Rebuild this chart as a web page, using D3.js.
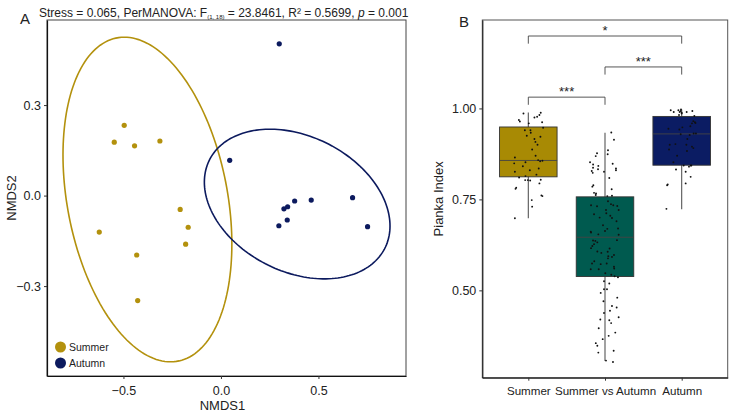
<!DOCTYPE html>
<html>
<head>
<meta charset="utf-8">
<script src="https://cdn.jsdelivr.net/npm/d3@7"></script>
<style>
  body { margin: 0; background: #fff; }
  text { font-family: "Liberation Sans", Arial, sans-serif; fill: #222; }
</style>
</head>
<body>
<div id="chart"></div>
<script>
const WIDTH = 735;
const HEIGHT = 418;

// ---- panel A data (NMDS scores) ----
const SEASONS = ["Summer", "Autumn"];
const summerX = [-0.547, -0.496, -0.443, -0.313, -0.209, -0.168, -0.624, -0.181, -0.432, -0.427];
const summerY = [0.177, 0.233, 0.165, 0.181, -0.046, -0.105, -0.121, -0.161, -0.197, -0.348];
const autumnX = [0.299, 0.045, 0.323, 0.342, 0.378, 0.463, 0.675, 0.297, 0.340, 0.752];
const autumnY = [0.503, 0.117, -0.044, -0.037, -0.018, -0.015, -0.007, -0.100, -0.081, -0.103];

// 95% ellipses: centre, spread on each axis, correlation
const ellipseCenter = [[-0.377, -0.013], [0.391, -0.028]];
const ellipseSpread = [[0.433, 0.538], [0.476, 0.248]];
const ellipseCorr = [-0.274, -0.293];

const xTicksA = [-0.5, 0.0, 0.5];
const yTicksA = [-0.3, 0.0, 0.3];

// ---- panel B data (Pianka index) ----
const GROUPS = ["Summer", "Summer vs Autumn", "Autumn"];
const boxLow = [0.698, 0.306, 0.723];
const boxQ1 = [0.812, 0.538, 0.844];
const boxMedian = [0.857, 0.646, 0.930];
const boxQ3 = [0.949, 0.757, 0.978];
const boxHigh = [0.989, 0.933, 0.997];

const summerPianka = [0.986, 0.988, 0.982, 0.977, 0.975, 0.968, 0.964, 0.962, 0.959, 0.947,
  0.940, 0.940, 0.933, 0.922, 0.916, 0.908, 0.865, 0.858, 0.855, 0.856,
  0.852, 0.849, 0.841, 0.835, 0.826, 0.818, 0.814, 0.803, 0.803, 0.802,
  0.804, 0.794, 0.782, 0.779, 0.761, 0.759, 0.748, 0.730, 0.698, 0.925,
  0.900, 0.887, 0.870, 0.830, 0.810];
const summerJitter = [-0.063, 0.162, 0.145, 0.115, 0.080, -0.123, -0.110, 0.180, 0.006, 0.193,
  -0.045, 0.028, 0.032, 0.158, 0.080, 0.093, -0.175, 0.128, 0.154, 0.184,
  -0.037, -0.184, -0.071, 0.136, -0.175, 0.106, -0.037, -0.006, -0.041, 0.024,
  0.162, 0.145, -0.158, -0.167, 0.171, 0.184, 0.045, 0.050, -0.175, -0.020,
  0.120, 0.050, 0.095, 0.020, -0.120];

const mixedPianka = [0.934, 0.914, 0.885, 0.877, 0.874, 0.869, 0.852, 0.848, 0.846, 0.842,
  0.837, 0.835, 0.833, 0.830, 0.828, 0.826, 0.823, 0.809, 0.789, 0.785,
  0.778, 0.768, 0.766, 0.762, 0.760, 0.759, 0.745, 0.737, 0.734, 0.734,
  0.732, 0.731, 0.721, 0.721, 0.712, 0.709, 0.705, 0.699, 0.679, 0.669,
  0.663, 0.661, 0.659, 0.654, 0.653, 0.638, 0.637, 0.632, 0.636, 0.627,
  0.622, 0.616, 0.607, 0.606, 0.603, 0.597, 0.594, 0.592, 0.588, 0.574,
  0.572, 0.574, 0.565, 0.558, 0.558, 0.547, 0.543, 0.539, 0.536, 0.525,
  0.519, 0.503, 0.503, 0.493, 0.480, 0.457, 0.453, 0.444, 0.438, 0.426,
  0.420, 0.418, 0.396, 0.384, 0.375, 0.366, 0.348, 0.334, 0.329, 0.307,
  0.303, 0.700, 0.690, 0.615, 0.580, 0.560, 0.470, 0.410, 0.355, 0.670];
const mixedJitter = [0.082, 0.117, 0.039, -0.104, 0.035, -0.121, -0.195, 0.100, -0.155, -0.087,
  -0.156, 0.143, -0.091, 0.143, -0.173, -0.013, -0.160, 0.056, -0.152, -0.165,
  0.087, -0.143, -0.117, -0.121, 0.091, 0.030, 0.039, 0.078, -0.182, 0.108,
  0.160, -0.104, 0.178, 0.013, 0.017, -0.143, 0.069, 0.091, -0.026, 0.030,
  0.000, -0.186, -0.182, -0.087, 0.178, 0.156, -0.156, -0.100, -0.126, -0.143,
  -0.165, -0.182, -0.100, 0.035, -0.048, 0.117, 0.043, 0.091, 0.039, -0.169,
  -0.056, 0.022, 0.117, -0.186, -0.082, 0.004, 0.082, 0.125, 0.169, -0.013,
  0.056, 0.026, -0.013, -0.056, 0.160, 0.091, 0.152, 0.065, -0.013, 0.178,
  -0.061, 0.056, -0.082, 0.134, 0.048, -0.030, -0.100, 0.113, -0.087, 0.013,
  0.104, -0.070, 0.150, 0.060, -0.140, 0.120, -0.020, 0.080, -0.120, 0.170];

const autumnPianka = [0.997, 0.995, 0.995, 0.993, 0.990, 0.988, 0.990, 0.990, 0.993, 0.979,
  0.982, 0.986, 0.965, 0.962, 0.959, 0.951, 0.944, 0.942, 0.948, 0.931,
  0.929, 0.931, 0.927, 0.916, 0.902, 0.900, 0.900, 0.895, 0.891, 0.887,
  0.883, 0.852, 0.843, 0.840, 0.843, 0.843, 0.832, 0.826, 0.812, 0.794,
  0.789, 0.791, 0.724, 0.960, 0.870];
const autumnJitter = [-0.009, -0.143, -0.043, -0.013, -0.104, 0.000, -0.026, 0.065, 0.139, 0.165,
  -0.035, 0.000, 0.152, 0.173, 0.134, 0.113, -0.173, -0.030, 0.009, 0.156,
  -0.013, 0.186, 0.104, 0.074, -0.082, -0.156, 0.061, 0.134, 0.152, -0.165,
  0.069, -0.108, 0.117, 0.095, 0.026, 0.126, -0.074, 0.052, 0.117, 0.052,
  -0.190, -0.182, -0.199, 0.180, -0.060];

const pankaPoints = [summerPianka, mixedPianka, autumnPianka];
const pankaJitter = [summerJitter, mixedJitter, autumnJitter];

// significance brackets: [from group, to group, label, height]
const bracketFrom = [1, 2, 1];
const bracketTo = [2, 3, 3];
const bracketLabel = ["***", "***", "*"];
const bracketLevel = [1.031, 1.114, 1.199];
const yTicksB = [0.50, 0.75, 1.00];

const SEASON_COLORS = ["#b3910d", "#0c1a5e"];
const BOX_COLORS = ["#a88a04", "#005a4f", "#0b1c63"];

const svg = d3.select("#chart").append("svg")
  .attr("width", WIDTH)
  .attr("height", HEIGHT);

// ================= panel A =================
const A = { left: 47, right: 406, top: 20, bottom: 376 };

const xA = d3.scaleLinear().domain([-0.892, 0.949]).range([A.left, A.right]);
const yA = d3.scaleLinear().domain([-0.598, 0.582]).range([A.bottom, A.top]);

svg.append("rect")
  .attr("x", A.left).attr("y", A.top)
  .attr("width", A.right - A.left).attr("height", A.bottom - A.top)
  .attr("fill", "none").attr("stroke", "#444").attr("stroke-width", 1);

const axA_x = svg.append("g")
  .attr("transform", "translate(0," + A.bottom + ")")
  .call(d3.axisBottom(xA).tickValues(xTicksA).tickFormat(d3.format(".1f")).tickSize(3).tickSizeOuter(0));
const axA_y = svg.append("g")
  .attr("transform", "translate(" + A.left + ",0)")
  .call(d3.axisLeft(yA).tickValues(yTicksA).tickFormat(d3.format(".1f")).tickSize(3).tickSizeOuter(0));

[axA_x, axA_y].forEach(g => {
  g.select(".domain").attr("stroke", "#111").attr("stroke-width", 1.2);
  g.selectAll(".tick line").attr("stroke", "#333");
  g.selectAll(".tick text").attr("font-size", "12.5px").attr("fill", "#222")
    .attr("font-family", "Liberation Sans, Arial, sans-serif")
    .text(d => d3.format(".1f")(d).replace("-", "\u2212"));
});
axA_x.selectAll(".tick text").attr("dy", "1.05em");

// ellipses
const ellipseLine = d3.line().x(d => xA(d[0])).y(d => yA(d[1])).curve(d3.curveLinearClosed);
SEASONS.forEach((s, i) => {
  const [cx, cy] = ellipseCenter[i];
  const [sx, sy] = ellipseSpread[i];
  const r = ellipseCorr[i];
  const pts = d3.range(0, 360, 2).map(a => {
    const t = a * Math.PI / 180;
    return [cx + sx * Math.cos(t),
            cy + sy * (r * Math.cos(t) + Math.sqrt(1 - r * r) * Math.sin(t))];
  });
  svg.append("path")
    .attr("d", ellipseLine(pts))
    .attr("fill", "none")
    .attr("stroke", SEASON_COLORS[i])
    .attr("stroke-width", 1.6);
});

// points
const seasonPoints = [d3.zip(summerX, summerY), d3.zip(autumnX, autumnY)];
SEASONS.forEach((s, i) => {
  svg.selectAll(".pt" + i)
    .data(seasonPoints[i])
    .enter()
    .append("circle")
    .attr("cx", d => xA(d[0]))
    .attr("cy", d => yA(d[1]))
    .attr("r", 2.6)
    .attr("fill", SEASON_COLORS[i]);
});

// legend
SEASONS.forEach((s, i) => {
  const ly = 347 + i * 16;
  svg.append("circle").attr("cx", 60.5).attr("cy", ly).attr("r", 5.5).attr("fill", SEASON_COLORS[i]);
  svg.append("text").attr("x", 69).attr("y", ly + 4)
    .attr("font-size", "10.5px").text(s);
});

svg.append("text").attr("x", (A.left + A.right) / 2 - 4).attr("y", 410)
  .attr("text-anchor", "middle").attr("font-size", "13px").text("NMDS1");
svg.append("text")
  .attr("transform", "translate(16," + ((A.top + A.bottom) / 2) + ") rotate(-90)")
  .attr("text-anchor", "middle").attr("font-size", "13px").text("NMDS2");

svg.append("text").attr("x", 20).attr("y", 24).attr("font-size", "15px").text("A");

// title
const title = svg.append("text").attr("x", 39).attr("y", 16.5).attr("font-size", "12px");
title.append("tspan").text("Stress = 0.065, PerMANOVA: F");
title.append("tspan").attr("font-size", "6px").attr("dy", 2).text("(1, 18)");
title.append("tspan").attr("dy", -2).text(" = 23.8461, R\u00b2 = 0.5699, ");
title.append("tspan").attr("font-style", "italic").text("p");
title.append("tspan").text(" = 0.001");

// ================= panel B =================
const B = { left: 482.3, right: 727.7, top: 20, bottom: 377.7 };

const xB = d3.scaleLinear().domain([0.4, 3.6]).range([B.left, B.right]);
const yB = d3.scaleLinear().domain([0.26, 1.243]).range([B.bottom, B.top]);
const BOX_W = 0.375;

svg.append("rect")
  .attr("x", B.left).attr("y", B.top)
  .attr("width", B.right - B.left).attr("height", B.bottom - B.top)
  .attr("fill", "none").attr("stroke", "#555").attr("stroke-width", 1);

const axB_x = svg.append("g")
  .attr("transform", "translate(0," + B.bottom + ")")
  .call(d3.axisBottom(xB).tickValues([1, 2, 3]).tickFormat((d, i) => GROUPS[i]).tickSize(3).tickSizeOuter(0));
const axB_y = svg.append("g")
  .attr("transform", "translate(" + B.left + ",0)")
  .call(d3.axisLeft(yB).tickValues(yTicksB).tickFormat(d3.format(".2f")).tickSize(3).tickSizeOuter(0));

[axB_x, axB_y].forEach(g => {
  g.select(".domain").attr("stroke", "#222").attr("stroke-width", 1.2);
  g.selectAll(".tick line").attr("stroke", "#333");
  g.selectAll(".tick text").attr("font-size", "12.5px").attr("fill", "#222")
    .attr("font-family", "Liberation Sans, Arial, sans-serif");
});
axB_x.selectAll(".tick text").attr("dy", "1.0em").attr("font-size", "11.6px");

svg.append("text")
  .attr("transform", "translate(443," + ((B.top + B.bottom) / 2) + ") rotate(-90)")
  .attr("text-anchor", "middle").attr("font-size", "13px").text("Pianka Index");

svg.append("text").attr("x", 459).attr("y", 27).attr("font-size", "15px").text("B");

// whiskers
svg.selectAll(".whisker")
  .data(GROUPS)
  .enter()
  .append("line")
  .attr("x1", (d, i) => xB(i + 1)).attr("x2", (d, i) => xB(i + 1))
  .attr("y1", (d, i) => yB(boxLow[i])).attr("y2", (d, i) => yB(boxHigh[i]))
  .attr("stroke", "#555").attr("stroke-width", 1.1);

// boxes
svg.selectAll(".box")
  .data(GROUPS)
  .enter()
  .append("rect")
  .attr("x", (d, i) => xB(i + 1 - BOX_W))
  .attr("width", (d, i) => xB(i + 1 + BOX_W) - xB(i + 1 - BOX_W))
  .attr("y", (d, i) => yB(boxQ3[i]))
  .attr("height", (d, i) => yB(boxQ1[i]) - yB(boxQ3[i]))
  .attr("fill", (d, i) => BOX_COLORS[i])
  .attr("stroke", "#333").attr("stroke-width", 0.9);

svg.selectAll(".median")
  .data(GROUPS)
  .enter()
  .append("line")
  .attr("x1", (d, i) => xB(i + 1 - BOX_W)).attr("x2", (d, i) => xB(i + 1 + BOX_W))
  .attr("y1", (d, i) => yB(boxMedian[i])).attr("y2", (d, i) => yB(boxMedian[i]))
  .attr("stroke", "#444").attr("stroke-width", 0.9);

// jittered points
GROUPS.forEach((g, i) => {
  svg.selectAll(".jit" + i)
    .data(d3.zip(pankaPoints[i], pankaJitter[i]))
    .enter()
    .append("circle")
    .attr("cx", d => xB(i + 1 + d[1]))
    .attr("cy", d => yB(d[0]))
    .attr("r", 0.95)
    .attr("fill", "#111");
});

// significance brackets
bracketLabel.forEach((lab, i) => {
  const x1 = xB(bracketFrom[i]), x2 = xB(bracketTo[i]);
  const yTop = yB(bracketLevel[i]), yEnd = yB(bracketLevel[i] - 0.021);
  svg.append("path")
    .attr("d", "M" + x1 + "," + yEnd + "V" + yTop + "H" + x2 + "V" + yEnd)
    .attr("fill", "none").attr("stroke", "#444").attr("stroke-width", 0.9);
  svg.append("text")
    .attr("x", (x1 + x2) / 2).attr("y", yTop - 1)
    .attr("text-anchor", "middle").attr("font-size", "13px").attr("fill", "#333")
    .text(lab);
});
</script>
</body>
</html>
